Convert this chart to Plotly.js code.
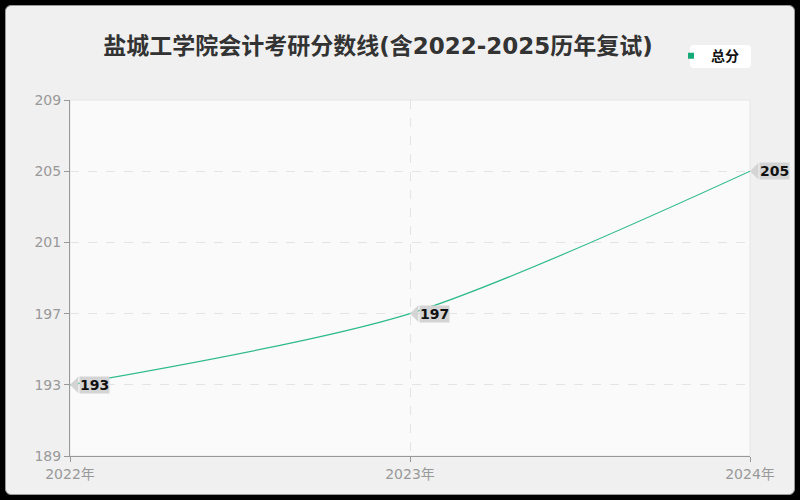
<!DOCTYPE html>
<html>
<head>
<meta charset="utf-8">
<script src="https://cdn.plot.ly/plotly-3.0.1.min.js"></script>
<style>
  html, body { margin: 0; padding: 0; background: #000; }
  #box {
    position: absolute; left: 5px; top: 5px; width: 788px; height: 488px;
    background: #f0f0f0; border: 1px solid #9a9a9a; border-radius: 6px; overflow: hidden;
  }
  #chart { width: 788px; height: 488px; }
  #legendbox {
    position: absolute; left: 684px; top: 39px; width: 61px; height: 23px;
    background: #fff; border-radius: 4px;
  }
</style>
</head>
<body>
<div id="box"><div id="legendbox"></div><div id="chart" style="position:absolute;left:0;top:0"></div></div>
<script>
// data
const years = ['2022年', '2023年', '2024年'];
const scores = [193, 197, 205];
const seriesName = '总分';
const yTicks = [189, 193, 197, 201, 205, 209];

const font = '"DejaVu Sans", "Noto Sans CJK SC", sans-serif';
const green = '#2fba8a';
const tagGrey = '#d4d4d4';

var trace = [{
    type: 'scatter',
    mode: 'lines',
    name: seriesName,
    x: years,
    y: scores,
    line: {color: green, width: 1.2, shape: 'spline', smoothing: 0.8},
    showlegend: false,
    hoverinfo: 'none'
}, {
    // legend entry only: square key like the original
    type: 'scatter',
    mode: 'markers',
    name: seriesName,
    x: [null], y: [null],
    marker: {symbol: 'square', size: 6, color: '#16a97a'},
    showlegend: true,
    hoverinfo: 'none'
}];

// value labels: grey tags, the arrow head makes the tip pointing at the point
var notes = years.map((yr, i) => ({
    x: yr, y: scores[i], xref: 'x', yref: 'y',
    text: '<b>' + scores[i] + '</b>',
    showarrow: true, arrowhead: 1, arrowwidth: 1, arrowsize: 2.8,
    arrowcolor: tagGrey, standoff: 0,
    ax: 9, ay: 0, xanchor: 'left',
    bgcolor: tagGrey, borderpad: 0,
    font: {family: font, size: 14, color: '#111'}
}));

var layout = {
    width: 788, height: 488,
    margin: {l: 64, r: 44, t: 94, b: 38, autoexpand: false},
    paper_bgcolor: 'rgba(0,0,0,0)',
    plot_bgcolor: '#fafafa',
    title: {
        text: '盐城工学院会计考研分数线(含2022-2025历年复试)',
        x: 0.472, xref: 'container', y: 0.935, yref: 'container',
        font: {family: font, size: 23, color: '#333', weight: 'bold'}
    },
    showlegend: true,
    legend: {
        x: 665 / 788, xref: 'container', y: 0.93, yref: 'container',
        xanchor: 'left', yanchor: 'top',
        bgcolor: 'rgba(0,0,0,0)', borderwidth: 0,
        font: {family: font, size: 14, color: '#111', weight: 'bold'},
        itemwidth: 30, tracegroupgap: 0
    },
    xaxis: {
        type: 'category', range: [0, 2],
        showgrid: true, gridcolor: '#e4e4e4', griddash: 'dash',
        showline: true, linecolor: '#999', linewidth: 1,
        ticks: 'outside', ticklen: 5, tickcolor: '#999',
        tickfont: {family: font, size: 14, color: '#999'},
        zeroline: false, fixedrange: true
    },
    yaxis: {
        range: [189, 209], tickvals: yTicks,
        showgrid: true, gridcolor: '#e4e4e4', griddash: 'dash',
        showline: true, linecolor: '#999', linewidth: 1,
        ticks: 'outside', ticklen: 5, tickcolor: '#999',
        tickfont: {family: font, size: 14, color: '#999'},
        zeroline: false, fixedrange: true
    },
    shapes: [{
        type: 'rect', xref: 'paper', yref: 'paper', x0: 0, x1: 1, y0: 0, y1: 1,
        line: {color: '#e6e6e6', width: 1}, layer: 'below'
    }],
    annotations: notes
};

Plotly.newPlot('chart', trace, layout, {displayModeBar: false, staticPlot: true});
</script>
</body>
</html>
